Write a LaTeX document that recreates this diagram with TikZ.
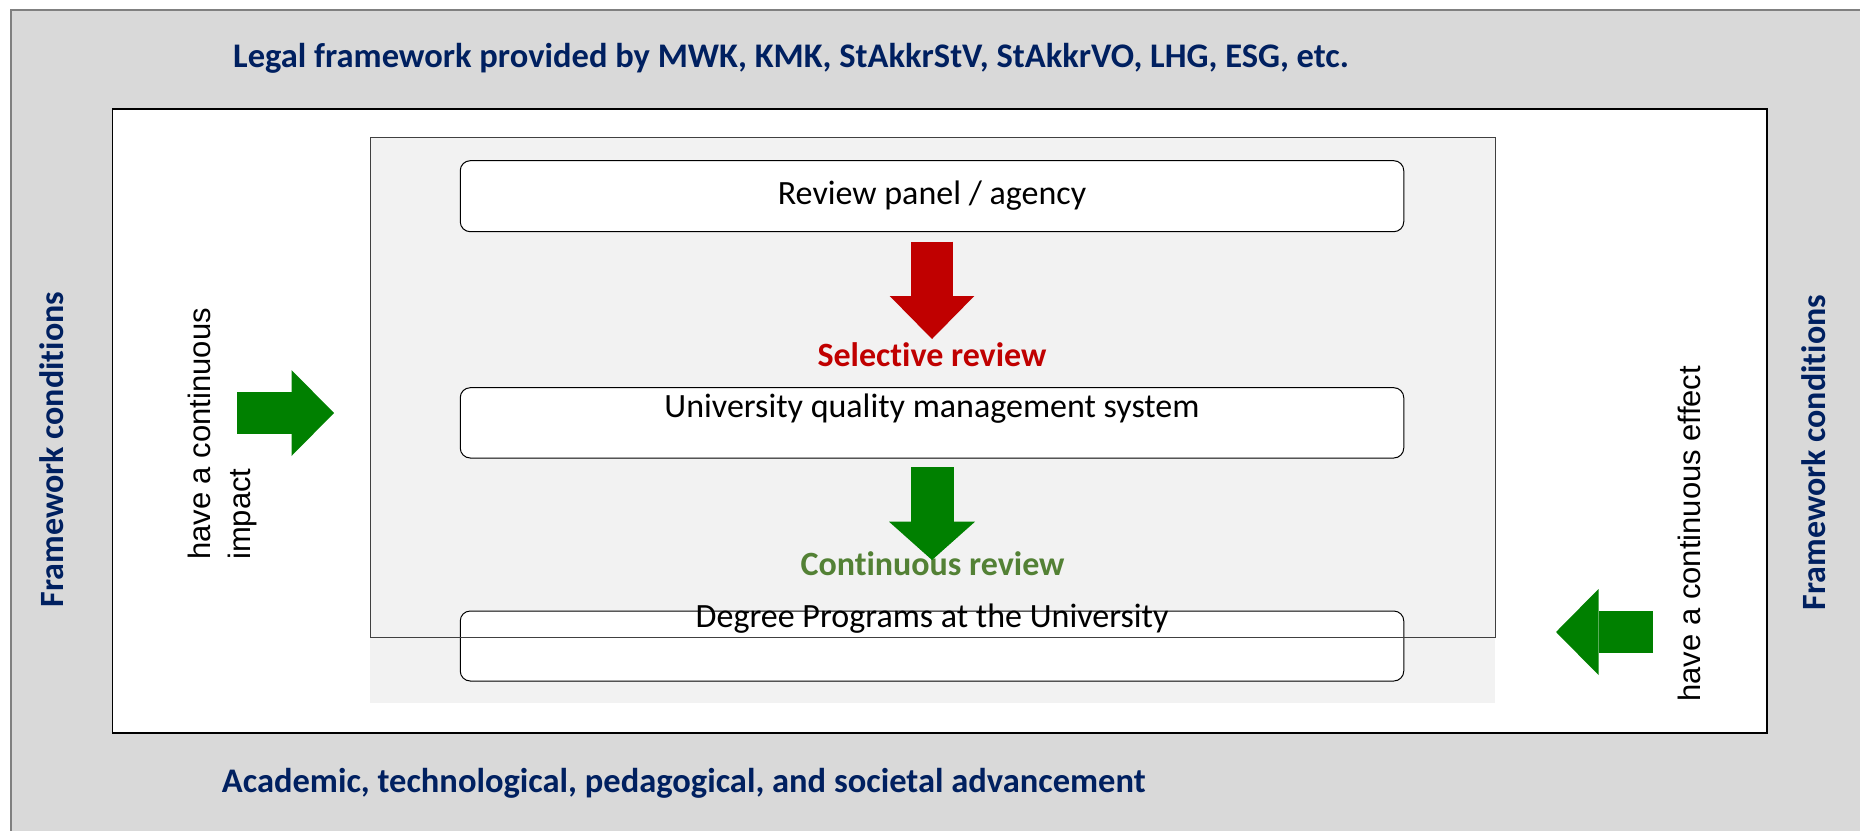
\documentclass[tikz,border=0pt]{standalone}
\usepackage{fontspec}
\setmainfont{Carlito}[Ligatures=NoCommon]
\newfontfamily\notefont{Liberation Sans}
\usepackage{tikz}
\usetikzlibrary{positioning,arrows.meta,backgrounds}
\definecolor{FrameGray}{RGB}{217,217,217}
\definecolor{PanelGray}{RGB}{242,242,242}
\definecolor{EdgeGray}{RGB}{64,64,64}
\definecolor{NavyText}{RGB}{0,32,96}
\definecolor{ReviewRed}{RGB}{192,0,0}
\definecolor{FlowGreen}{RGB}{0,128,0}
\definecolor{OliveText}{RGB}{83,129,53}

\begin{document}
\begin{tikzpicture}[
  x=1pt, y=-1pt,
  stage/.style={rectangle, draw=black, fill=white, line width=1pt, rounded corners=10pt, minimum width=943.5pt, inner sep=0pt, outer sep=0pt, font=\fontsize{34}{41}\selectfont},
  heading/.style={anchor=base west, inner sep=0pt, text=NavyText, font=\fontsize{34.5}{41}\selectfont\bfseries},
  sidehead/.style={anchor=base, rotate=90, inner sep=0pt, text=NavyText, font=\fontsize{34}{41}\selectfont\bfseries},
  sidenote/.style={rotate=90, inner sep=0pt, align=left, font=\notefont\fontsize{31}{40}\selectfont},
  reviewlabel/.style={anchor=base, inner sep=0pt, font=\fontsize{34}{41}\selectfont\bfseries},
  redflow/.style={line width=42pt, draw=ReviewRed, -{Triangle[length=43pt, width=84.6pt, line width=0pt]}},
  greenflow/.style={line width=43pt, draw=FlowGreen, -{Triangle[length=38.3pt, width=86pt, line width=0pt]}},
  sideflow/.style={line width=42.5pt, draw=FlowGreen, -{Triangle[length=42.5pt, width=86pt, line width=0pt]}}
]
  \useasboundingbox (0,0) rectangle (1860,830);

  % Frames
  \draw[fill=FrameGray, draw=gray, line width=1.3pt] (11,10) rectangle (1875,845);
  \draw[fill=white, draw=black, line width=1.3pt] (112.7,109) rectangle (1767,733);
  \fill[PanelGray] (370,137.6) rectangle (1495,703);

  % Nodes
  \node[stage, text height=43.3pt, text depth=27.7pt] (agency) at (932,196.2) {Review panel / agency};
  \node[stage, text height=30pt, text depth=40.3pt, below=156pt of agency] (qms) {University quality management system};
  \node[stage, text height=16pt, text depth=54pt, below=153pt of qms] (programs) {Degree Programs at the University};

  \draw[EdgeGray, line width=1pt] (370,137.6) rectangle (1495,637);

  \node[reviewlabel, text=ReviewRed] (selective) at (932,366.7) {Selective review};
  \node[reviewlabel, text=OliveText] (continuous) at (932.5,575) {Continuous review};

  \node[heading] (legal) at (233,67.7) {Legal framework provided by MWK, KMK, StAkkrStV, StAkkrVO, LHG, ESG, etc.};
  \node[heading] (advance) at (221.7,792.7) {Academic, technological, pedagogical, and societal advancement};

  \node[sidehead] (leftframe) at (63.3,449.5) {Framework conditions};
  \node[sidehead] (rightframe) at (1825,452.5) {Framework conditions};
  \node[sidenote, anchor=north west] (impact) at (187.8,560) {have a continuous\\impact};
  \node[sidenote, anchor=base west] (effect) at (1700,701.7) {have a continuous effect};

  % Arrows
  \draw[redflow, shorten <=10pt, shorten >=48.7pt] (agency.south) -- (qms.north);
  \draw[greenflow, shorten <=9.3pt, shorten >=51pt] (qms.south) -- (programs.north);

  \coordinate (impactTail) at (237,413);
  \coordinate (impactTip) at (334,413);
  \draw[sideflow] (impactTail) -- (impactTip);

  \coordinate (effectTail) at (1653,632);
  \coordinate (effectTip) at (1556,632);
  \draw[sideflow] (effectTail) -- (effectTip);
\end{tikzpicture}
\end{document}
